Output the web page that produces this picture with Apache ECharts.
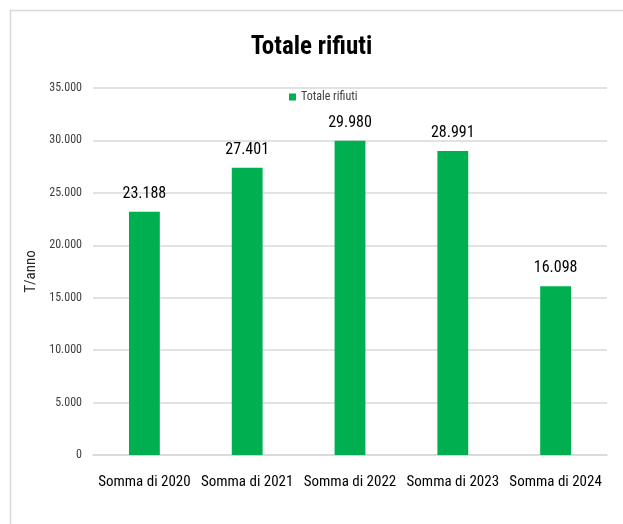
<!DOCTYPE html>
<html><head><meta charset="utf-8">
<script src="https://cdn.jsdelivr.net/npm/echarts@6/dist/echarts.min.js"></script>
<style>html,body{margin:0;padding:0;background:#fff}#c{width:623px;height:524px}</style>
</head><body><div id="c"></div>
<script>
const categories = ["Somma di 2020","Somma di 2021","Somma di 2022","Somma di 2023","Somma di 2024"];
const values = [23188, 27401, 29980, 28991, 16098];
const seriesName = "Totale rifiuti";
const FONT = "'Liberation Sans Narrow','Roboto Condensed','Liberation Sans',sans-serif";
function fmt(v){return String(Math.round(v)).replace(/\B(?=(\d{3})+(?!\d))/g,'.');}
const chart = echarts.init(document.getElementById('c'));
chart.setOption({
  animation:false,
  backgroundColor:'#fff',
  graphic:[
    {type:'rect',shape:{x:10.5,y:10.5,width:640,height:600},style:{fill:'none',stroke:'#d9d9d9',lineWidth:1.5},silent:true}
  ],
  title:{text:'Totale rifiuti',left:'center',top:30,textStyle:{fontFamily:FONT,fontSize:25,fontWeight:'bold',color:'#000'}},
  legend:{top:86,left:284,itemWidth:7,itemHeight:7,itemGap:4,textStyle:{fontFamily:FONT,fontSize:12,color:'#404040'},icon:'rect',data:[seriesName]},
  grid:{left:93,right:16,top:88,bottom:69,containLabel:false},
  xAxis:{type:'category',data:categories,axisTick:{show:false},axisLine:{lineStyle:{color:'#d9d9d9',width:1.5}},
    axisLabel:{fontFamily:FONT,fontSize:15,color:'#000',margin:20,interval:0}},
  yAxis:{type:'value',min:0,max:35000,interval:5000,name:'T/anno',nameLocation:'middle',nameGap:46,nameRotate:90,
    nameTextStyle:{fontFamily:FONT,fontSize:15,color:'#262626'},
    axisLabel:{fontFamily:FONT,fontSize:12,color:'#404040',margin:11,formatter:v=>fmt(v)},
    splitLine:{lineStyle:{color:'#d9d9d9',width:1.5}},axisLine:{show:false},axisTick:{show:false}},
  series:[{name:seriesName,type:'bar',data:values,barWidth:'30%',itemStyle:{color:'#00B050'},
    label:{show:true,position:'top',distance:10,fontFamily:FONT,fontSize:16,color:'#000',formatter:p=>fmt(p.value)}}]
});
</script></body></html>
